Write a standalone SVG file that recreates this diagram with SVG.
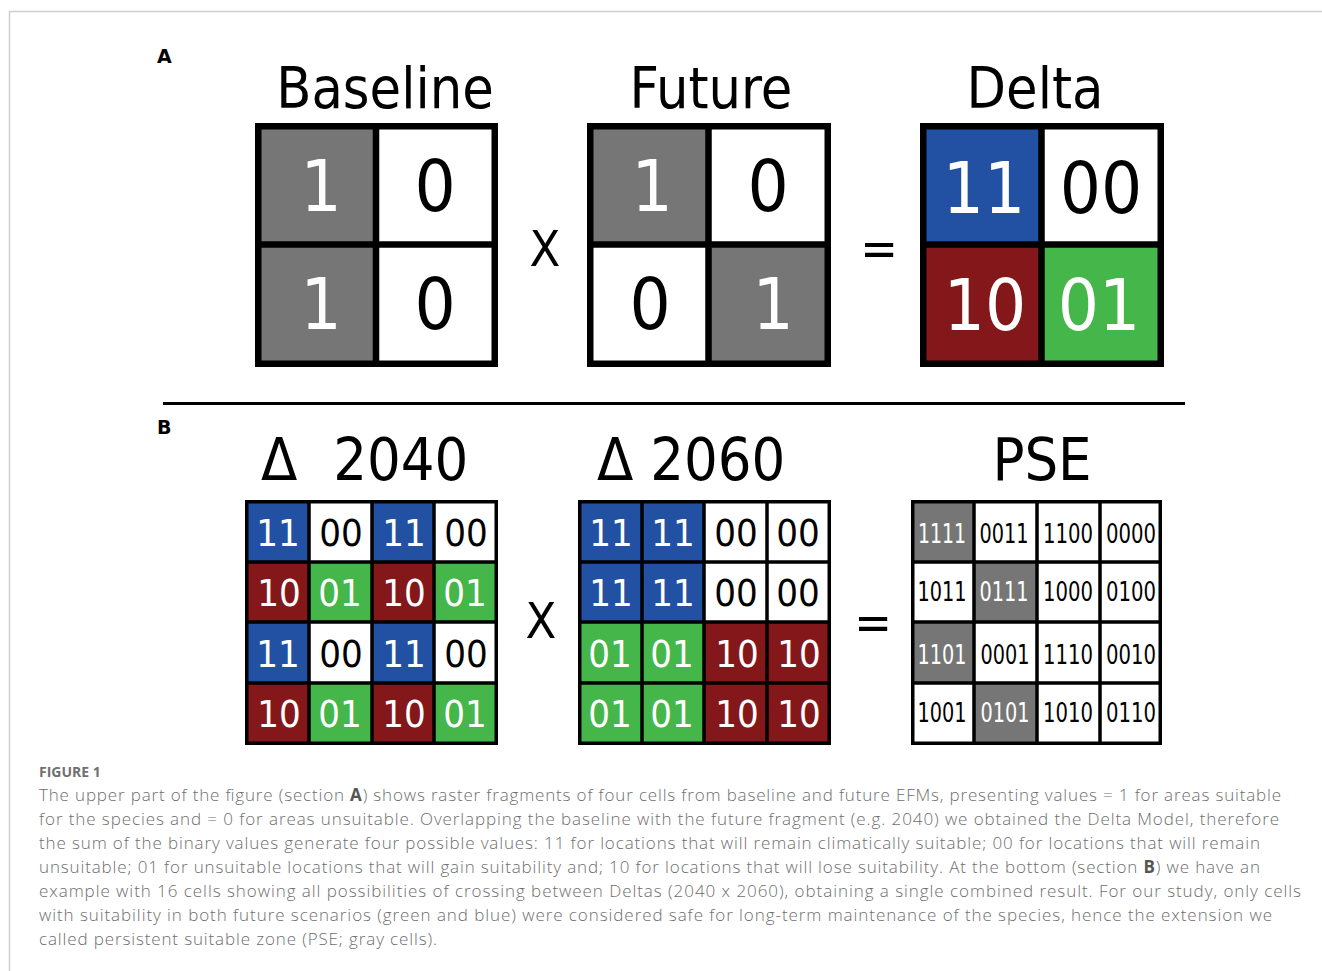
<svg xmlns="http://www.w3.org/2000/svg" width="1322" height="971" viewBox="0 0 1322 971">
<style>
.bg{fill:#ffffff}
.frame{fill:none;stroke:#cfcfcf;stroke-width:1.5}
.title{font-family:"DejaVu Sans Condensed","DejaVu Sans",sans-serif;font-size:57px;fill:#000;text-anchor:middle}
.titleb{font-family:"DejaVu Sans Condensed","DejaVu Sans",sans-serif;font-size:59px;fill:#000;text-anchor:start}
.lbl{font-family:"DejaVu Sans","Liberation Sans",sans-serif;font-weight:bold;font-size:19px;fill:#000}
.op{font-family:"DejaVu Sans Condensed","DejaVu Sans",sans-serif;font-size:50px;fill:#000;text-anchor:middle}
.big{font-family:"DejaVu Sans Condensed","DejaVu Sans",sans-serif;font-size:72px;text-anchor:middle}
.mid{font-family:"DejaVu Sans Condensed","DejaVu Sans",sans-serif;font-size:38px;text-anchor:middle}
.sm{font-family:"DejaVu Sans Condensed","DejaVu Sans",sans-serif;font-size:26px;text-anchor:middle}
.w{fill:#ffffff}
.k{fill:#000000}
.g{fill:#767676}
.b{fill:#2251a3}
.r{fill:#84171a}
.gr{fill:#45b64a}
.wh{fill:#ffffff}
.thick{stroke:#000;stroke-width:6.5;fill:none}
.thin{stroke:#000;stroke-width:3.5;fill:none}
.cap{font-family:"Open Sans","Liberation Sans",sans-serif;font-weight:300;font-size:17px;fill:#6e6e6e}
.caph{font-family:"Open Sans","Liberation Sans",sans-serif;font-weight:bold;font-size:14px;fill:#707070}
</style>
<rect class="bg" x="0" y="0" width="1322" height="971"/>
<path class="frame" d="M9.5,971 V11.5 H1322"/>

<text class="lbl" x="157" y="63">A</text>
<text class="lbl" x="157" y="434">B</text>

<!-- Section A: Baseline -->
<g id="baseline">
<text class="title" x="385" y="108">Baseline</text>
<rect class="g" x="255" y="123" width="121.5" height="121.5"/>
<rect class="wh" x="376.5" y="123" width="121.5" height="121.5"/>
<rect class="g" x="255" y="244.5" width="121.5" height="122.5"/>
<rect class="wh" x="376.5" y="244.5" width="121.5" height="122.5"/>
<rect class="thick" x="258.25" y="126.25" width="236.5" height="237.5"/>
<path class="thick" d="M376,123 V367 M255,244.5 H498"/>
<text class="big w" x="321" y="211">1</text>
<text class="big k" x="435" y="211">0</text>
<text class="big w" x="321" y="329">1</text>
<text class="big k" x="435" y="329">0</text>
</g>

<text class="op" x="545" y="266">X</text>

<g id="future">
<text class="title" x="711" y="108">Future</text>
<rect class="g" x="587" y="123" width="121.5" height="121.5"/>
<rect class="wh" x="708.5" y="123" width="121.5" height="121.5"/>
<rect class="wh" x="587" y="244.5" width="121.5" height="122.5"/>
<rect class="g" x="708.5" y="244.5" width="121.5" height="122.5"/>
<rect class="thick" x="590.25" y="126.25" width="237.5" height="237.5"/>
<path class="thick" d="M708.5,123 V367 M587,244.5 H831"/>
<text class="big w" x="652" y="211">1</text>
<text class="big k" x="768" y="211">0</text>
<text class="big k" x="650" y="329">0</text>
<text class="big w" x="773" y="329">1</text>
</g>

<text class="op" x="879" y="266">=</text>

<g id="delta">
<text class="title" x="1035" y="108">Delta</text>
<rect class="b" x="920" y="123" width="121.5" height="121.5"/>
<rect class="wh" x="1041.5" y="123" width="122.5" height="121.5"/>
<rect class="r" x="920" y="244.5" width="121.5" height="122.5"/>
<rect class="gr" x="1041.5" y="244.5" width="122.5" height="122.5"/>
<rect class="thick" x="923.25" y="126.25" width="237.5" height="237.5"/>
<path class="thick" d="M1041.5,123 V367 M920,244.5 H1164"/>
<text class="big w" x="984" y="213">11</text>
<text class="big k" x="1101" y="213">00</text>
<text class="big w" x="985" y="330">10</text>
<text class="big w" x="1099" y="330">01</text>
</g>

<g id="divider">
<line x1="163" y1="403.5" x2="1185" y2="403.5" stroke="#000" stroke-width="3"/>
</g>

<!-- Section B -->
<g id="delta2040">
<text class="titleb" x="261" y="480">Δ <tspan dx="19">2040</tspan></text>
<rect class="b" x="245" y="500" width="64" height="62"/>
<rect class="wh" x="309" y="500" width="63" height="62"/>
<rect class="b" x="372" y="500" width="62" height="62"/>
<rect class="wh" x="434" y="500" width="64" height="62"/>
<rect class="r" x="245" y="562" width="64" height="60"/>
<rect class="gr" x="309" y="562" width="63" height="60"/>
<rect class="r" x="372" y="562" width="62" height="60"/>
<rect class="gr" x="434" y="562" width="64" height="60"/>
<rect class="b" x="245" y="622" width="64" height="61"/>
<rect class="wh" x="309" y="622" width="63" height="61"/>
<rect class="b" x="372" y="622" width="62" height="61"/>
<rect class="wh" x="434" y="622" width="64" height="61"/>
<rect class="r" x="245" y="683" width="64" height="62"/>
<rect class="gr" x="309" y="683" width="63" height="62"/>
<rect class="r" x="372" y="683" width="62" height="62"/>
<rect class="gr" x="434" y="683" width="64" height="62"/>
<rect class="thin" x="246.75" y="501.75" width="249.5" height="241.5"/>
<path class="thin" d="M309,500 V745 M372,500 V745 M434,500 V745 M245,562 H498 M245,622 H498 M245,683 H498"/>
<text class="mid w" x="278" y="546">11</text>
<text class="mid k" x="341" y="546">00</text>
<text class="mid w" x="404" y="546">11</text>
<text class="mid k" x="466" y="546">00</text>
<text class="mid w" x="279" y="606">10</text>
<text class="mid w" x="340" y="606">01</text>
<text class="mid w" x="404" y="606">10</text>
<text class="mid w" x="465" y="606">01</text>
<text class="mid w" x="278" y="667">11</text>
<text class="mid k" x="341" y="667">00</text>
<text class="mid w" x="404" y="667">11</text>
<text class="mid k" x="466" y="667">00</text>
<text class="mid w" x="279" y="727">10</text>
<text class="mid w" x="340" y="727">01</text>
<text class="mid w" x="404" y="727">10</text>
<text class="mid w" x="465" y="727">01</text>
</g>

<text class="op" x="541" y="638">X</text>

<g id="delta2060">
<text class="titleb" x="597" y="480">Δ 2060</text>
<rect class="b" x="578" y="500" width="64" height="62"/>
<rect class="b" x="642" y="500" width="62" height="62"/>
<rect class="wh" x="704" y="500" width="63" height="62"/>
<rect class="wh" x="767" y="500" width="64" height="62"/>
<rect class="b" x="578" y="562" width="64" height="60"/>
<rect class="b" x="642" y="562" width="62" height="60"/>
<rect class="wh" x="704" y="562" width="63" height="60"/>
<rect class="wh" x="767" y="562" width="64" height="60"/>
<rect class="gr" x="578" y="622" width="64" height="61"/>
<rect class="gr" x="642" y="622" width="62" height="61"/>
<rect class="r" x="704" y="622" width="63" height="61"/>
<rect class="r" x="767" y="622" width="64" height="61"/>
<rect class="gr" x="578" y="683" width="64" height="62"/>
<rect class="gr" x="642" y="683" width="62" height="62"/>
<rect class="r" x="704" y="683" width="63" height="62"/>
<rect class="r" x="767" y="683" width="64" height="62"/>
<rect class="thin" x="579.75" y="501.75" width="249.5" height="241.5"/>
<path class="thin" d="M642,500 V745 M704,500 V745 M767,500 V745 M578,562 H831 M578,622 H831 M578,683 H831"/>
<text class="mid w" x="611" y="546">11</text>
<text class="mid w" x="673" y="546">11</text>
<text class="mid k" x="736" y="546">00</text>
<text class="mid k" x="798" y="546">00</text>
<text class="mid w" x="611" y="606">11</text>
<text class="mid w" x="673" y="606">11</text>
<text class="mid k" x="736" y="606">00</text>
<text class="mid k" x="798" y="606">00</text>
<text class="mid w" x="610" y="667">01</text>
<text class="mid w" x="672" y="667">01</text>
<text class="mid w" x="737" y="667">10</text>
<text class="mid w" x="799" y="667">10</text>
<text class="mid w" x="610" y="727">01</text>
<text class="mid w" x="672" y="727">01</text>
<text class="mid w" x="737" y="727">10</text>
<text class="mid w" x="799" y="727">10</text>
</g>

<text class="op" x="873" y="640">=</text>

<g id="pse">
<text class="title" x="1042" y="480" style="font-size:59px">PSE</text>
<rect class="g" x="911" y="500" width="63" height="62"/>
<rect class="wh" x="974" y="500" width="63" height="62"/>
<rect class="wh" x="1037" y="500" width="63" height="62"/>
<rect class="wh" x="1100" y="500" width="62" height="62"/>
<rect class="wh" x="911" y="562" width="63" height="60"/>
<rect class="g" x="974" y="562" width="63" height="60"/>
<rect class="wh" x="1037" y="562" width="63" height="60"/>
<rect class="wh" x="1100" y="562" width="62" height="60"/>
<rect class="g" x="911" y="622" width="63" height="61"/>
<rect class="wh" x="974" y="622" width="63" height="61"/>
<rect class="wh" x="1037" y="622" width="63" height="61"/>
<rect class="wh" x="1100" y="622" width="62" height="61"/>
<rect class="wh" x="911" y="683" width="63" height="62"/>
<rect class="g" x="974" y="683" width="63" height="62"/>
<rect class="wh" x="1037" y="683" width="63" height="62"/>
<rect class="wh" x="1100" y="683" width="62" height="62"/>
<rect class="thin" x="912.75" y="501.75" width="247.5" height="241.5"/>
<path class="thin" d="M974,500 V745 M1037,500 V745 M1100,500 V745 M911,562 H1162 M911,622 H1162 M911,683 H1162"/>
<g class="sm">
<text class="w" x="942" y="543" textLength="48" lengthAdjust="spacingAndGlyphs">1111</text>
<text class="k" x="1004" y="543" textLength="49" lengthAdjust="spacingAndGlyphs">0011</text>
<text class="k" x="1068" y="543" textLength="50" lengthAdjust="spacingAndGlyphs">1100</text>
<text class="k" x="1131" y="543" textLength="50" lengthAdjust="spacingAndGlyphs">0000</text>
<text class="k" x="942" y="601" textLength="49" lengthAdjust="spacingAndGlyphs">1011</text>
<text class="w" x="1004" y="601" textLength="49" lengthAdjust="spacingAndGlyphs">0111</text>
<text class="k" x="1068" y="601" textLength="50" lengthAdjust="spacingAndGlyphs">1000</text>
<text class="k" x="1131" y="601" textLength="50" lengthAdjust="spacingAndGlyphs">0100</text>
<text class="w" x="942" y="664" textLength="49" lengthAdjust="spacingAndGlyphs">1101</text>
<text class="k" x="1005" y="664" textLength="49" lengthAdjust="spacingAndGlyphs">0001</text>
<text class="k" x="1068" y="664" textLength="50" lengthAdjust="spacingAndGlyphs">1110</text>
<text class="k" x="1131" y="664" textLength="50" lengthAdjust="spacingAndGlyphs">0010</text>
<text class="k" x="942" y="722" textLength="49" lengthAdjust="spacingAndGlyphs">1001</text>
<text class="w" x="1005" y="722" textLength="49" lengthAdjust="spacingAndGlyphs">0101</text>
<text class="k" x="1068" y="722" textLength="50" lengthAdjust="spacingAndGlyphs">1010</text>
<text class="k" x="1131" y="722" textLength="50" lengthAdjust="spacingAndGlyphs">0110</text>
</g>
</g>

<g id="caption">
<text class="caph" x="39" y="777">FIGURE 1</text>
<text class="cap" x="39" y="801" textLength="1242">The upper part of the figure (section <tspan font-weight="bold" fill="#555">A</tspan>) shows raster fragments of four cells from baseline and future EFMs, presenting values = 1 for areas suitable</text>
<text class="cap" x="39" y="825" textLength="1240">for the species and = 0 for areas unsuitable. Overlapping the baseline with the future fragment (e.g. 2040) we obtained the Delta Model, therefore</text>
<text class="cap" x="39" y="849" textLength="1221">the sum of the binary values generate four possible values: 11 for locations that will remain climatically suitable; 00 for locations that will remain</text>
<text class="cap" x="39" y="873" textLength="1221">unsuitable; 01 for unsuitable locations that will gain suitability and; 10 for locations that will lose suitability. At the bottom (section <tspan font-weight="bold" fill="#555">B</tspan>) we have an</text>
<text class="cap" x="39" y="897" textLength="1262">example with 16 cells showing all possibilities of crossing between Deltas (2040 x 2060), obtaining a single combined result. For our study, only cells</text>
<text class="cap" x="39" y="921" textLength="1233">with suitability in both future scenarios (green and blue) were considered safe for long-term maintenance of the species, hence the extension we</text>
<text class="cap" x="39" y="945" textLength="398">called persistent suitable zone (PSE; gray cells).</text>
</g>
</svg>
